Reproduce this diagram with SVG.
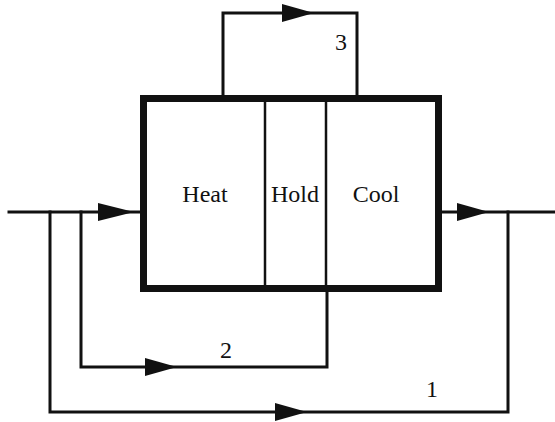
<svg xmlns="http://www.w3.org/2000/svg" width="555" height="422" viewBox="0 0 555 422">
<style>
.ln{fill:none;stroke:#111;stroke-width:3;stroke-linejoin:miter;stroke-linecap:square}
.ah{fill:#111;stroke:none}
.box{fill:#fff;stroke:#111;stroke-width:7}
.div{stroke:#111;stroke-width:2.5}
.t{font-family:'Liberation Serif','DejaVu Serif',serif;font-size:24px;fill:#111;text-anchor:middle}
</style>
<rect width="555" height="422" fill="#fff"/>
<g id="connectors">
<path class="ln" d="M9,212 H140"/>
<path class="ln" d="M442,212 H555"/>
<path class="ln" d="M223,95 V13 H357 V95"/>
<path class="ln" d="M81,212 V367 H327 V288"/>
<path class="ln" d="M50,212 V412 H508 V212"/>
<polygon class="ah" points="98,203 134,212 98,221"/>
<polygon class="ah" points="457,203 489,212 457,221"/>
<polygon class="ah" points="282,4 314,13 282,22"/>
<polygon class="ah" points="145,358 177,367 145,376"/>
<polygon class="ah" points="275,403 307,412 275,421"/>
</g>
<g id="unit">
<rect class="box" x="143.500" y="98.500" width="295" height="190"/>
<line class="div" x1="265" y1="102" x2="265" y2="285"/>
<line class="div" x1="326" y1="102" x2="326" y2="285"/>
</g>
<g id="heat"><text class="t" x="205" y="202">Heat</text></g>
<g id="hold"><text class="t" x="295" y="202">Hold</text></g>
<g id="cool"><text class="t" x="376" y="202">Cool</text></g>
<g id="labels">
<text class="t" x="341" y="50">3</text>
<text class="t" x="226" y="358">2</text>
<text class="t" x="432" y="397">1</text>
</g>
</svg>
